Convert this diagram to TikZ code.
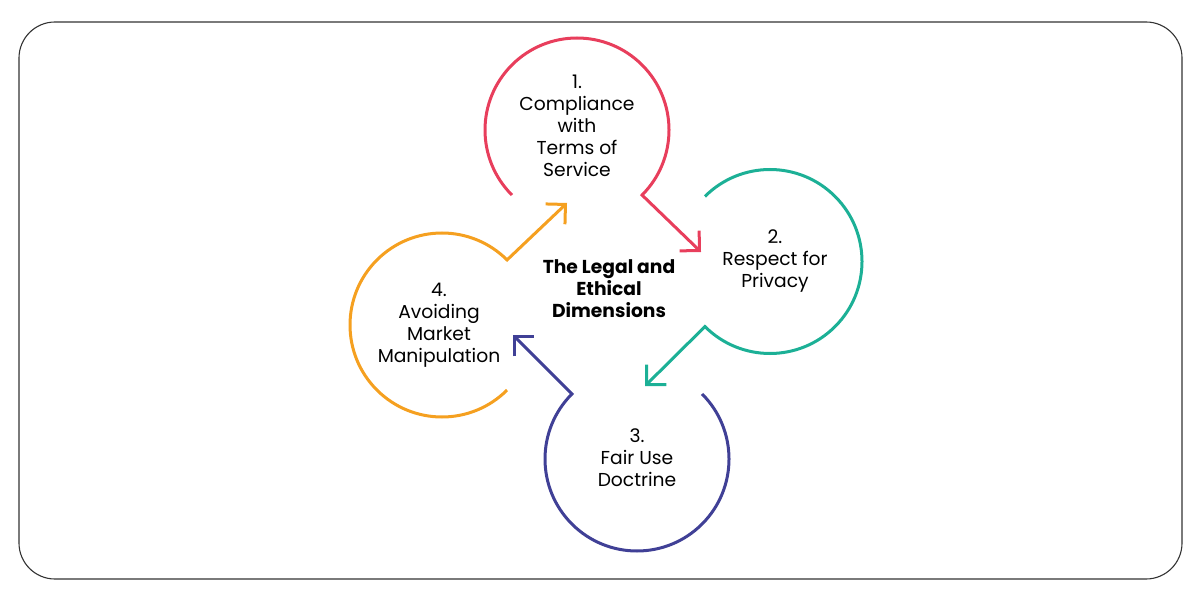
\documentclass[tikz,border=0pt]{standalone}
\usepackage{fontspec}
\setmainfont{Poppins}
\usetikzlibrary{arrows.meta}
\definecolor{cred}{RGB}{232,62,92}
\definecolor{cteal}{RGB}{28,176,150}
\definecolor{cblue}{RGB}{64,64,150}
\definecolor{corange}{RGB}{245,160,32}
\begin{document}
\begin{tikzpicture}[x=1pt,y=1pt,
  ring/.style={circle, minimum size=184pt, inner sep=0pt, outer sep=0pt},
  loop/.style={line width=3pt, line join=miter},
  lbl/.style={align=center, font=\fontsize{18.7}{22}\selectfont, text=black, inner sep=0pt},
  tip/.style={-{Straight Barb[length=14pt,width=28pt]}}]
\useasboundingbox (0,0) rectangle (1198,595);
\draw[line width=1.1pt, draw=black!80, rounded corners=36pt] (19,16) rectangle (1182,573);

\node[ring] (c1) at (577,465) {};
\node[ring] (c2) at (770,333.5) {};
\node[ring] (c3) at (637,136) {};
\node[ring] (c4) at (442,270) {};

\coordinate (a1) at (701,343);
\coordinate (a2) at (645,209);
\coordinate (a3) at (513,260);
\coordinate (a4) at (567,392);

\draw[loop, draw=cred, tip] (c1.225) arc[start angle=225, end angle=-45, radius=92pt] -- (a1);
\draw[loop, draw=cteal, tip] (c2.135) arc[start angle=135, end angle=-135, radius=92pt] -- (a2);
\draw[loop, draw=cblue, tip] (c3.45) arc[start angle=45, end angle=-225, radius=92pt] -- (a3);
\draw[loop, draw=corange, tip] (c4.-45) arc[start angle=-45, end angle=-315, radius=92pt] -- (a4);

\node[lbl] (t1) at (577,469) {1.\\Compliance\\with\\Terms of\\Service};
\node[lbl] (t2) at (775,334) {2.\\Respect for\\Privacy};
\node[lbl] (t3) at (637,137) {3.\\Fair Use\\Doctrine};
\node[lbl] (t4) at (439,270) {4.\\Avoiding\\Market\\Manipulation};
\node[lbl, font=\fontsize{18.7}{22}\selectfont\bfseries] (tc) at (609,306) {The Legal and\\Ethical\\Dimensions};
\end{tikzpicture}
\end{document}
